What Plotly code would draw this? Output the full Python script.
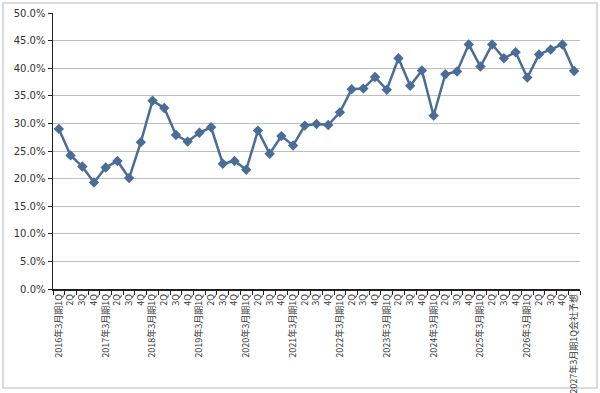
import plotly.graph_objects as go

years = ["2016", "2017", "2018", "2019", "2020", "2021", "2022", "2023", "2024", "2025", "2026"]
quarters = ["1Q", "2Q", "3Q", "4Q"]
categories = []
for y in years:
    for q in quarters:
        categories.append(f"{y}年3月期1Q" if q == "1Q" else q)
categories.append("2027年3月期1Q会社予想")
# make duplicate quarter labels unique as categories, display via ticktext
cat_ids = [f"c{i}" for i in range(len(categories))]

values = [29.0, 24.2, 22.2, 19.3, 22.0, 23.2, 20.1, 26.6,
          34.1, 32.8, 27.9, 26.7, 28.3, 29.3, 22.7, 23.2,
          21.6, 28.7, 24.5, 27.7, 26.0, 29.6, 29.9, 29.7,
          32.0, 36.2, 36.3, 38.4, 36.1, 41.8, 36.8, 39.6,
          31.4, 38.9, 39.4, 44.3, 40.3, 44.3, 41.8, 42.9,
          38.3, 42.5, 43.4, 44.3, 39.5]

y_ticks = [0, 5, 10, 15, 20, 25, 30, 35, 40, 45, 50]

fig = go.Figure()
fig.add_trace(go.Scatter(
    x=cat_ids, y=values, mode="lines+markers",
    line=dict(color="#4A6D98", width=2.5),
    marker=dict(symbol="diamond", size=8, color="#4A6D98"),
    hoverinfo="skip",
))

fig.update_layout(
    width=600, height=393,
    margin=dict(l=53, r=20, t=13, b=104),
    paper_bgcolor="white", plot_bgcolor="white",
    showlegend=False,
    font=dict(family="DejaVu Sans", color="#333333"),
    xaxis=dict(
        type="category", automargin=False,
        tickmode="array", tickvals=cat_ids, ticktext=categories,
        tickangle=-90,
        tickfont=dict(family="Noto Sans CJK JP", size=9, color="#333333"),
        range=[-0.5, len(cat_ids) - 0.5],
        tickson="boundaries",
        ticks="outside", ticklen=4, tickcolor="#202020",
        showline=True, linecolor="#202020", linewidth=1.5,
        showgrid=False, zeroline=False,
    ),
    yaxis=dict(
        range=[0, 50], automargin=False,
        tickmode="array", tickvals=y_ticks,
        ticktext=[f"{v:.1f}%" for v in y_ticks],
        tickfont=dict(family="DejaVu Sans", size=10, color="#333333"),
        ticks="outside", ticklen=4, tickcolor="#202020",
        showline=True, linecolor="#202020", linewidth=1.5,
        showgrid=True, gridcolor="#BDBDBD", gridwidth=1,
        zeroline=False,
    ),
    shapes=[dict(
        type="rect", xref="paper", yref="paper",
        x0=(3 - 53) / 527, x1=(597 - 53) / 527,
        y0=(289 - 388) / 276, y1=(289 - 3) / 276,
        line=dict(color="#D0D0D0", width=1.5), fillcolor="rgba(0,0,0,0)",
        layer="below",
    )],
)

fig.write_html("out.html",
               config={"displayModeBar": False, "staticPlot": True},
               post_script="document.body.style.margin='0';document.body.style.overflow='hidden';")
